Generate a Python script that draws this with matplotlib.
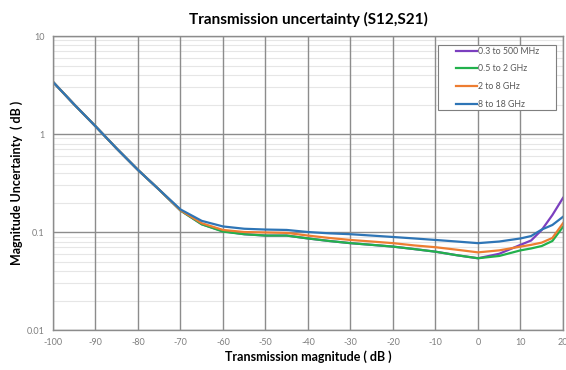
import matplotlib.pyplot as plt
import numpy as np
from matplotlib.patches import Rectangle
from matplotlib.ticker import LogLocator, NullFormatter

plt.rcParams["font.family"] = ["Lato", "DejaVu Sans"]

# Transmission magnitude (dB) sample points
mag = [-100, -95, -90, -85, -80, -75, -70, -65, -60, -55, -50, -45, -40, -35, -30,
       -25, -20, -15, -10, -5, 0, 5, 10, 12.5, 15, 17.5, 20]

# Magnitude uncertainty (dB) per frequency band
unc_03_500m = [3.4, 2.0, 1.2, 0.71, 0.43, 0.27, 0.166, 0.120, 0.102, 0.095, 0.092, 0.092,
               0.086, 0.081, 0.077, 0.074, 0.071, 0.067, 0.063, 0.058, 0.054, 0.060, 0.074,
               0.082, 0.105, 0.149, 0.223]
unc_05_2g = [3.4, 2.0, 1.2, 0.71, 0.43, 0.27, 0.166, 0.120, 0.101, 0.095, 0.092, 0.092,
             0.086, 0.081, 0.077, 0.074, 0.071, 0.067, 0.063, 0.058, 0.054, 0.057, 0.065,
             0.068, 0.072, 0.081, 0.113]
unc_2_8g = [3.4, 2.0, 1.2, 0.71, 0.43, 0.27, 0.167, 0.123, 0.105, 0.100, 0.099, 0.098,
            0.092, 0.087, 0.083, 0.080, 0.077, 0.073, 0.070, 0.066, 0.062, 0.065, 0.071,
            0.074, 0.078, 0.087, 0.123]
unc_8_18g = [3.4, 2.0, 1.2, 0.71, 0.43, 0.27, 0.170, 0.130, 0.114, 0.108, 0.106, 0.105,
             0.100, 0.097, 0.095, 0.092, 0.089, 0.086, 0.083, 0.080, 0.077, 0.080, 0.086,
             0.091, 0.106, 0.118, 0.143]

labels = ["0.3 to 500 MHz", "0.5 to 2 GHz", "2 to 8 GHz", "8 to 18 GHz"]
colors = ["#7b3fbf", "#22b14c", "#ed7d31", "#2e75b6"]
x_ticks = list(range(-100, 21, 10))
y_ticks = [0.01, 0.1, 1, 10]
y_tick_labels = ["0.01", "0.1", "1", "10"]

fig = plt.figure(figsize=(5.66, 3.70), dpi=100)
ax = fig.add_axes([0.0936, 0.108, 0.9011, 0.7947])

series = [unc_03_500m, unc_05_2g, unc_2_8g, unc_8_18g]
for vals, lab, col in zip(series, labels, colors):
    ax.plot(mag, vals, color=col, linewidth=1.6, label=lab)

ax.set_yscale("log")
ax.set_xlim(-100, 20)
ax.set_ylim(0.01, 10)
ax.set_xticks(x_ticks)
ax.set_xticklabels([str(t) for t in x_ticks])
ax.set_yticks(y_ticks)
ax.set_yticklabels(y_tick_labels)
ax.yaxis.set_minor_locator(LogLocator(base=10, subs=np.arange(2, 10)))
ax.yaxis.set_minor_formatter(NullFormatter())

ax.grid(True, which="major", color="#8c8c8c", linewidth=1.0)
ax.grid(True, which="minor", axis="y", color="#e6e6e6", linewidth=0.8)
ax.set_axisbelow(True)
# keep the vertical major lines above the light minor lines
ax.yaxis.set_zorder(0.4)
ax.xaxis.set_zorder(0.6)
ax.tick_params(which="both", length=0, labelsize=6.5, labelcolor="#7f7f7f", pad=6)
for s in ax.spines.values():
    s.set_color("#8c8c8c")
    s.set_linewidth(1.0)

ax.set_title("Transmission uncertainty (S12,S21)", fontsize=11, fontweight="bold", pad=9)
ax.set_xlabel("Transmission magnitude ( dB )", fontsize=9, fontweight="bold", labelpad=2)
ax.set_ylabel("Magnitude Uncertainty  ( dB )", fontsize=9, fontweight="bold", labelpad=3)

# legend box with wide side margins
ax.add_patch(Rectangle((0.755, 0.748), 0.231, 0.221, transform=ax.transAxes,
                       facecolor="white", edgecolor="#7f7f7f", linewidth=0.8, zorder=4))
leg = ax.legend(loc="center", bbox_to_anchor=(0.872, 0.858), fontsize=6.3,
                handlelength=2.4, handletextpad=0.1, labelspacing=1.0,
                frameon=False, borderpad=0)
leg.set_zorder(5)
for t in leg.get_texts():
    t.set_color("#595959")

fig.savefig("out.png", dpi=100)
